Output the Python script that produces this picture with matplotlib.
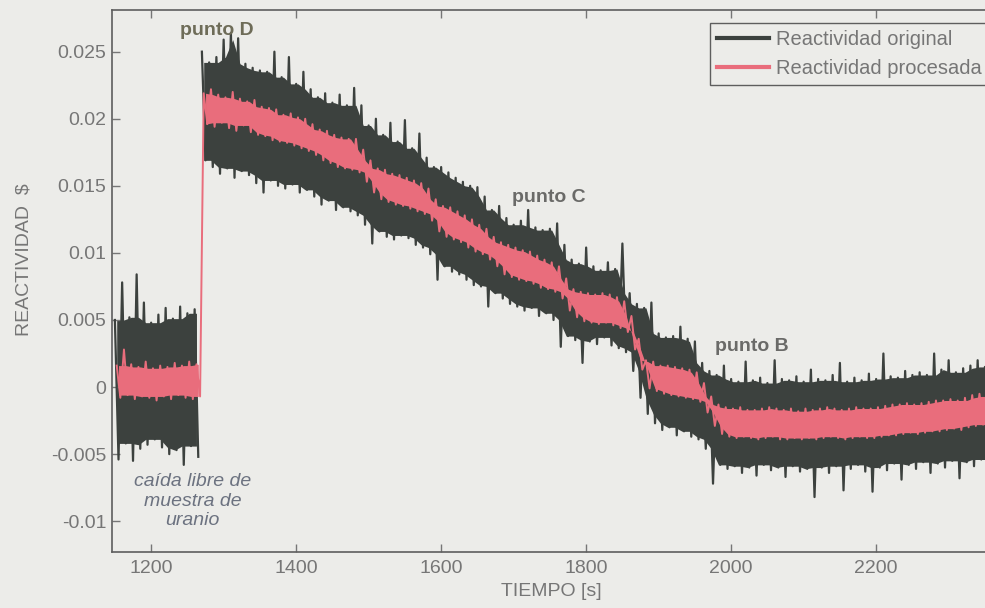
import numpy as np
import matplotlib
matplotlib.use("Agg")
import matplotlib.pyplot as plt
from matplotlib.lines import Line2D
from matplotlib.ticker import FuncFormatter

# samples every 10 s, values in units of 1e-3 $
# free-fall segment before the jump
t_base = np.arange(1150, 1261, 10)
proc_hi_base = [1.6, 2.8, 1.7, 1.5, 1.9, 1.4, 1.6, 1.5, 1.8, 1.6, 1.9, 1.7]
proc_lo_base = [-0.8, -0.6, -0.9, -0.7, -0.8, -1.0, -0.7, -0.9, -0.6, -0.8, -0.9, -0.7]
orig_hi_base = [5.0, 7.8, 5.2, 8.4, 6.3, 4.8, 5.4, 5.9, 5.1, 6.0, 5.5, 5.8]
orig_lo_base = [-5.4, -4.2, -5.5, -4.6, -4.3, -3.9, -4.5, -5.0, -4.7, -5.8, -4.4, -5.2]

# after the jump (1270 .. 2350 s)
t_main = np.arange(1270, 2351, 10)
proc_hi_main = [
    21.9, 22.2, 21.8, 21.6, 22.0, 21.5, 21.3, 21.4, 20.9, 20.8,
    20.7, 20.3, 20.4, 20.1, 20.0, 19.6, 19.2, 19.1, 18.8, 18.6,
    18.5, 18.5, 17.7, 16.9, 16.3, 16.2, 15.9, 15.8, 15.6, 15.4,
    15.2, 14.8, 14.0, 13.5, 13.4, 13.1, 12.8, 12.5, 12.1, 11.8,
    11.2, 10.8, 10.6, 10.4, 10.2, 10.1, 9.8, 9.5, 9.3, 9.0,
    8.1, 7.3, 7.1, 7.0, 6.9, 7.0, 6.9, 6.7, 6.4, 5.3,
    3.6, 2.0, 1.9, 1.6, 1.6, 1.5, 1.4, 1.3, 1.1, 0.3,
    -0.7, -1.3, -1.5, -1.6, -1.5, -1.7, -1.7, -1.6, -1.5, -1.6,
    -1.7, -1.6, -1.8, -1.6, -1.7, -1.6, -1.5, -1.6, -1.7, -1.6,
    -1.5, -1.6, -1.6, -1.5, -1.4, -1.3, -1.3, -1.2, -1.3, -1.2,
    -1.1, -1.0, -1.0, -0.9, -1.0, -0.8, -0.6, -0.5, -0.7,
]
proc_lo_main = [
    19.6, 19.4, 19.7, 19.3, 19.1, 19.5, 19.0, 18.8, 18.7, 18.4,
    18.3, 18.2, 18.0, 17.8, 17.6, 17.3, 16.9, 16.7, 16.4, 16.3,
    16.2, 16.0, 15.3, 14.5, 14.0, 13.8, 13.6, 13.5, 13.3, 13.1,
    12.9, 12.4, 11.6, 11.2, 11.0, 10.8, 10.4, 10.1, 9.9, 9.5,
    9.0, 8.4, 8.2, 8.0, 7.9, 7.7, 7.4, 7.3, 7.1, 6.6,
    5.7, 5.2, 4.9, 4.8, 4.7, 4.8, 4.6, 4.4, 4.1, 2.8,
    1.3, -0.1, -0.3, -0.5, -0.6, -0.7, -0.8, -0.9, -1.1, -1.9,
    -2.9, -3.5, -3.7, -3.8, -3.7, -3.8, -3.9, -3.8, -3.7, -3.9,
    -3.9, -3.8, -3.9, -3.8, -3.9, -3.8, -3.7, -3.8, -3.9, -3.8,
    -3.7, -3.8, -3.8, -3.7, -3.6, -3.6, -3.5, -3.4, -3.5, -3.4,
    -3.3, -3.3, -3.2, -3.1, -3.2, -3.0, -2.9, -2.8, -2.9,
]
orig_hi_main = [
    25.0, 24.2, 24.6, 25.9, 26.4, 26.0, 24.1, 23.8, 23.6, 23.5,
    25.0, 23.1, 24.6, 22.6, 23.5, 22.2, 21.6, 21.9, 21.2, 21.8,
    21.0, 22.3, 21.0, 19.5, 20.0, 18.8, 19.7, 18.3, 19.9, 17.8,
    18.9, 17.1, 16.4, 16.4, 16.0, 15.6, 15.3, 15.0, 14.9, 14.2,
    13.2, 13.5, 12.6, 12.1, 12.4, 13.2, 11.9, 11.7, 11.8, 12.2,
    10.6, 9.5, 9.2, 10.4, 9.0, 8.7, 9.3, 8.8, 10.7, 7.0,
    6.2, 5.9, 6.3, 4.0, 3.7, 3.8, 4.5, 3.6, 3.4, 1.8,
    1.2, 0.9, 1.6, 0.6, 0.4, 1.9, 0.5, 0.7, 0.3, 2.0,
    0.6, 0.5, 0.8, 0.4, 1.3, 0.6, 0.5, 0.9, 1.8, 0.4,
    0.7, 0.5, 1.0, 0.6, 2.5, 0.8, 0.7, 1.2, 0.9, 1.1,
    0.9, 2.5, 1.3, 2.0, 1.1, 1.4, 1.6, 2.0, 1.5,
]
orig_lo_main = [
    16.9, 16.4, 15.9, 16.3, 15.6, 16.1, 15.8, 15.2, 14.5, 15.4,
    15.0, 14.8, 15.1, 14.5, 14.7, 14.2, 13.6, 13.9, 13.2, 13.4,
    13.1, 12.8, 12.1, 10.7, 11.6, 11.2, 11.0, 11.3, 11.1, 10.6,
    10.4, 9.9, 8.0, 9.0, 8.6, 8.4, 8.0, 7.6, 7.5, 6.0,
    7.0, 6.6, 6.2, 6.0, 5.7, 5.9, 5.3, 5.5, 5.0, 3.0,
    3.8, 3.5, 1.8, 3.4, 3.2, 3.7, 3.1, 2.9, 2.6, 1.2,
    -0.8, -2.0, -2.7, -3.2, -3.0, -3.6, -3.3, -3.7, -3.9, -4.6,
    -7.2, -5.8, -6.1, -5.9, -6.4, -6.0, -6.6, -5.8, -6.2, -6.0,
    -6.7, -5.9, -6.3, -6.1, -8.2, -6.0, -6.4, -5.9, -7.7, -6.1,
    -5.8, -6.3, -7.8, -6.0, -6.2, -5.7, -6.9, -5.8, -6.1, -5.6,
    -6.4, -5.7, -6.0, -5.5, -6.8, -5.6, -5.9, -5.4, -6.0,
]

x_ticks = [1200, 1400, 1600, 1800, 2000, 2200]
y_ticks = [-0.01, -0.005, 0, 0.005, 0.01, 0.015, 0.02, 0.025]

bg = "#ecece9"
dark = "#3c413e"
pink = "#e96d7c"
grey = "#767676"


def zigzag(t, hi, lo, shift):
    tz = np.column_stack([t + shift, t + shift + 5]).ravel()
    yz = np.column_stack([np.asarray(hi), np.asarray(lo)]).ravel() * 1e-3
    return tz, yz


def core(hi, lo):
    hi = np.pad(np.asarray(hi), 1, mode="edge")
    lo = np.pad(np.asarray(lo), 1, mode="edge")
    c_hi = np.minimum(np.minimum(hi[:-2], hi[1:-1]), hi[2:])
    c_lo = np.maximum(np.maximum(lo[:-2], lo[1:-1]), lo[2:])
    return c_hi * 1e-3, c_lo * 1e-3


plt.rcParams["font.family"] = ["Liberation Sans", "DejaVu Sans"]
plt.rcParams["axes.unicode_minus"] = False

fig = plt.figure(figsize=(9.85, 6.08), dpi=100, facecolor=bg)
ax = fig.add_axes([0.1137, 0.092, 0.923, 0.8914], facecolor=bg)

segments = [(t_base, orig_hi_base, orig_lo_base), (t_main, orig_hi_main, orig_lo_main)]
for t, hi, lo in segments:
    c_hi, c_lo = core(hi, lo)
    ax.fill_between(t + 2.5, c_lo, c_hi, color=dark, lw=0, zorder=1)
    tz, yz = zigzag(t, hi, lo, 0)
    ax.plot(tz, yz, color=dark, lw=1.6, zorder=2)

t_all = np.concatenate([t_base, t_main])
p_hi = proc_hi_base + proc_hi_main
p_lo = proc_lo_base + proc_lo_main
for t, hi, lo in [(t_base, proc_hi_base, proc_lo_base), (t_main, proc_hi_main, proc_lo_main)]:
    c_hi, c_lo = core(hi, lo)
    ax.fill_between(t + 5, c_lo, c_hi, color=pink, lw=0, zorder=3)
tz, yz = zigzag(t_all, p_hi, p_lo, 2.5)
ax.plot(tz, yz, color=pink, lw=1.4, zorder=4)

ax.set_xlim(1146, 2400)
ax.set_ylim(-0.0123, 0.0281)
ax.set_xticks(x_ticks)
ax.set_yticks(y_ticks)
ax.yaxis.set_major_formatter(FuncFormatter(lambda v, p: "%g" % v))
ax.tick_params(direction="in", top=True, right=True, length=6, width=1,
               color=grey, labelcolor=grey, labelsize=14, pad=6)
ax.tick_params(axis="y", pad=4)
for s in ax.spines.values():
    s.set_color("#5e5e5e")
    s.set_linewidth(1.2)
    s.set_zorder(5)

ax.set_xlabel("TIEMPO [s]", fontsize=14, color=grey)
ax.xaxis.set_label_coords(0.483, -0.058)
ax.set_ylabel("REACTIVIDAD  \\$", fontsize=14, color=grey)
ax.yaxis.set_label_coords(-0.087, 0.54)

ax.text(1291, 0.0266, "punto D", fontsize=14, fontweight="bold", color="#6e6c58",
        ha="center", va="center")
ax.text(1749, 0.0141, "punto C", fontsize=14, fontweight="bold", color="#6a6a68",
        ha="center", va="center")
ax.text(2028, 0.0030, "punto B", fontsize=14, fontweight="bold", color="#6a6a68",
        ha="center", va="center")
ax.text(1257, -0.0085, "caída libre de\nmuestra de\nuranio", fontsize=14,
        style="italic", color="#6c7280", ha="center", va="center", linespacing=1.18)

handles = [Line2D([], [], color=dark, lw=3), Line2D([], [], color=pink, lw=3)]
leg = fig.legend(handles, ["Reactividad original", "Reactividad procesada"],
                 loc="upper left", bbox_to_anchor=(710 / 985, 1 - 23 / 608),
                 fontsize=14.5, frameon=True, fancybox=False, handlelength=2.6,
                 handletextpad=0.35, labelspacing=0.5, borderpad=0.35,
                 borderaxespad=0)
leg.get_frame().set_edgecolor("#5e5e5e")
leg.get_frame().set_facecolor(bg)
leg.get_frame().set_alpha(1)
for txt in leg.get_texts():
    txt.set_color(grey)

fig.savefig("out.png", dpi=100, facecolor=bg)
